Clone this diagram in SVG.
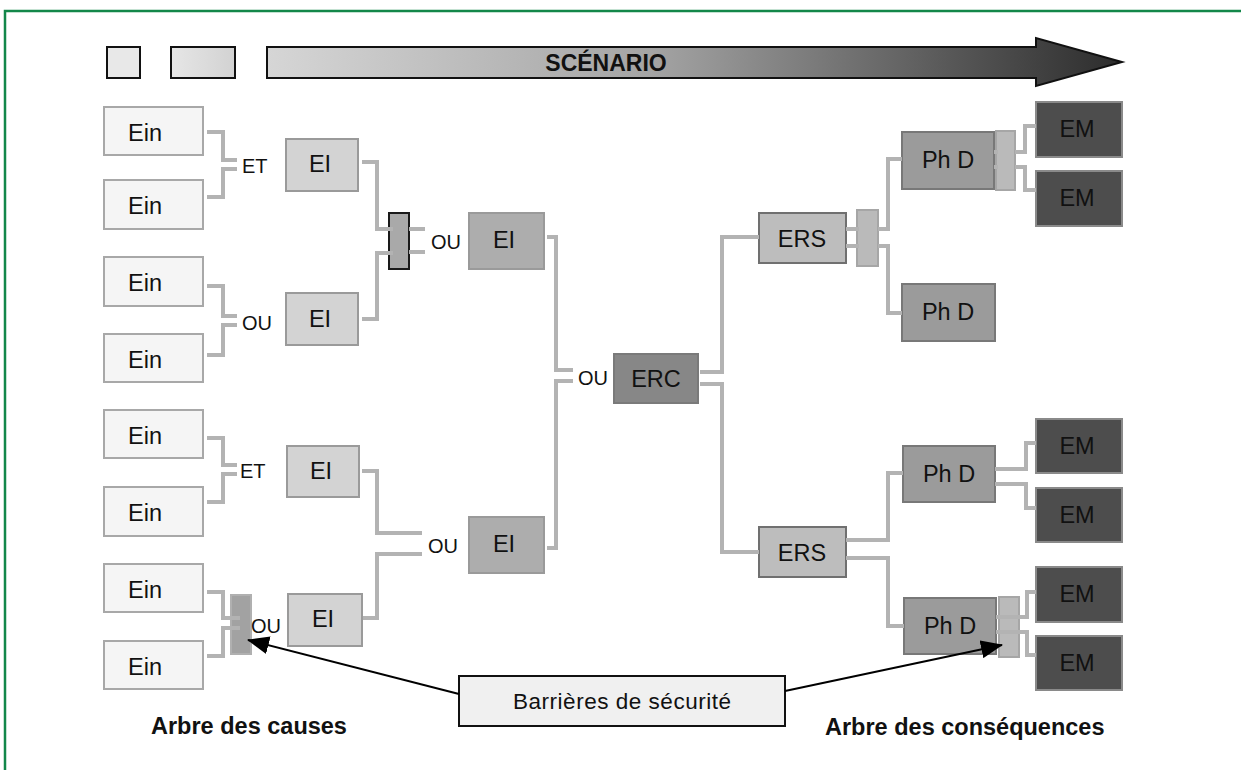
<svg xmlns="http://www.w3.org/2000/svg" width="1241" height="770" viewBox="0 0 1241 770">
<defs>
<linearGradient id="gArrow" x1="267" y1="0" x2="1122" y2="0" gradientUnits="userSpaceOnUse">
<stop offset="0" stop-color="#d6d6d6"/><stop offset="0.45" stop-color="#a4a4a4"/><stop offset="1" stop-color="#2c2c2c"/>
</linearGradient>
<linearGradient id="gSq2" x1="0" y1="0" x2="1" y2="0">
<stop offset="0" stop-color="#e6e6e6"/><stop offset="1" stop-color="#d2d2d2"/>
</linearGradient>
<marker id="ahb" viewBox="0 0 22 18" refX="21" refY="9" markerWidth="22" markerHeight="18" markerUnits="userSpaceOnUse" orient="auto">
<path d="M0,0 L22,9 L0,18 z" fill="#000"/>
</marker>
</defs>
<style>
text{font-family:"Liberation Sans",Arial,sans-serif;fill:#111}
.lbl{font-size:23.5px;text-anchor:middle}
.gate{font-size:20px}
.bold{font-weight:bold}
.ein{fill:#f5f5f5;stroke:#a8a8a8;stroke-width:2}
.ei1{fill:#d3d3d3;stroke:#9a9a9a;stroke-width:2}
.ei2{fill:#adadad;stroke:#9a9a9a;stroke-width:2}
.erc{fill:#878787;stroke:#7a7a7a;stroke-width:2}
.ers{fill:#bdbdbd;stroke:#707070;stroke-width:2}
.phd{fill:#9b9b9b;stroke:#787878;stroke-width:2}
.em{fill:#4d4d4d;stroke:#8a8a8a;stroke-width:2}
.bar{fill:#bababa;stroke:#a6a6a6;stroke-width:2}
.conn path{fill:none;stroke:#b3b3b3;stroke-width:4}
.frame{stroke:#13874a;stroke-width:2.5;fill:none}
</style>
<path class="frame" d="M5,770 V11 H1241"/>
<g id="scenario">
<rect x="107" y="47" width="33" height="31" fill="#e8e8e8" stroke="#111" stroke-width="2"/>
<rect x="171" y="47" width="64" height="31" fill="url(#gSq2)" stroke="#111" stroke-width="2"/>
<path d="M267,47 H1036 V38 L1122,62 L1036,86 V78 H267 Z" fill="url(#gArrow)" stroke="#111" stroke-width="2"/>
<text x="606" y="71" class="bold" font-size="23" text-anchor="middle">SCÉNARIO</text>
</g>
<g id="nodes">
<g id="ein1"><rect class="ein" x="104" y="107" width="99" height="48"/><text class="lbl" x="145" y="141">Ein</text></g>
<g id="ein2"><rect class="ein" x="104" y="180" width="99" height="49"/><text class="lbl" x="145" y="214">Ein</text></g>
<g id="ein3"><rect class="ein" x="104" y="257" width="99" height="49"/><text class="lbl" x="145" y="291">Ein</text></g>
<g id="ein4"><rect class="ein" x="104" y="334" width="99" height="48"/><text class="lbl" x="145" y="368">Ein</text></g>
<g id="ein5"><rect class="ein" x="104" y="410" width="99" height="48"/><text class="lbl" x="145" y="444">Ein</text></g>
<g id="ein6"><rect class="ein" x="104" y="487" width="99" height="49"/><text class="lbl" x="145" y="521">Ein</text></g>
<g id="ein7"><rect class="ein" x="104" y="564" width="99" height="48"/><text class="lbl" x="145" y="598">Ein</text></g>
<g id="ein8"><rect class="ein" x="104" y="641" width="99" height="48"/><text class="lbl" x="145" y="675">Ein</text></g>
<g id="ei1"><rect class="ei1" x="286" y="139" width="72" height="52"/><text class="lbl" x="320" y="172">EI</text></g>
<g id="ei2"><rect class="ei1" x="286" y="293" width="72" height="52"/><text class="lbl" x="320" y="327">EI</text></g>
<g id="ei3"><rect class="ei1" x="287" y="446" width="72" height="51"/><text class="lbl" x="321" y="479">EI</text></g>
<g id="ei4"><rect class="ei1" x="288" y="594" width="74" height="52"/><text class="lbl" x="323" y="627">EI</text></g>
<g id="ei5"><rect class="ei2" x="469" y="213" width="75" height="56"/><text class="lbl" x="504" y="248">EI</text></g>
<g id="ei6"><rect class="ei2" x="469" y="517" width="75" height="56"/><text class="lbl" x="504" y="552">EI</text></g>
<g id="erc"><rect class="erc" x="614" y="354" width="84" height="49"/><text class="lbl" x="656" y="387">ERC</text></g>
<g id="ers1"><rect class="ers" x="759" y="213" width="87" height="50"/><text class="lbl" x="802" y="247">ERS</text></g>
<g id="ers2"><rect class="ers" x="759" y="527" width="87" height="50"/><text class="lbl" x="802" y="561">ERS</text></g>
<g id="phd1"><rect class="phd" x="902" y="132" width="92" height="57"/><text class="lbl" x="948" y="168">Ph D</text></g>
<g id="phd2"><rect class="phd" x="902" y="284" width="93" height="57"/><text class="lbl" x="948" y="320">Ph D</text></g>
<g id="phd3"><rect class="phd" x="903" y="446" width="92" height="56"/><text class="lbl" x="949" y="482">Ph D</text></g>
<g id="phd4"><rect class="phd" x="904" y="598" width="92" height="56"/><text class="lbl" x="950" y="634">Ph D</text></g>
<g id="em1"><rect class="em" x="1036" y="102" width="86" height="55"/><text class="lbl" x="1077" y="137">EM</text></g>
<g id="em2"><rect class="em" x="1036" y="171" width="86" height="55"/><text class="lbl" x="1077" y="206">EM</text></g>
<g id="em3"><rect class="em" x="1036" y="419" width="86" height="54"/><text class="lbl" x="1077" y="454">EM</text></g>
<g id="em4"><rect class="em" x="1036" y="488" width="86" height="54"/><text class="lbl" x="1077" y="523">EM</text></g>
<g id="em5"><rect class="em" x="1036" y="567" width="86" height="55"/><text class="lbl" x="1077" y="602">EM</text></g>
<g id="em6"><rect class="em" x="1036" y="636" width="86" height="54"/><text class="lbl" x="1077" y="671">EM</text></g>
<g id="barrier1"><rect x="389" y="213" width="20" height="56" fill="#a9a9a9" stroke="#1a1a1a" stroke-width="2"/></g>
<g id="barrier2"><rect x="231" y="595" width="20" height="59" fill="#a2a2a2" stroke="#b0b0b0" stroke-width="2"/></g>
<g id="barrier3"><rect class="bar" x="857" y="210" width="21" height="56"/></g>
<g id="barrier4"><rect class="bar" x="996" y="131" width="19" height="59"/></g>
<g id="barrier5"><rect class="bar" x="999" y="597" width="20" height="60" fill="#c4c4c4"/></g>
</g>
<g id="connectors" class="conn">
<path d="M207,132 H223 V160 H237"/>
<path d="M237,169 H223 V197 H207"/>
<path d="M207,286 H223 V316 H237"/>
<path d="M237,325 H223 V355 H207"/>
<path d="M207,438 H223 V465 H237"/>
<path d="M237,474 H223 V502 H207"/>
<path d="M207,592 H223 V618 H240"/>
<path d="M240,628 H223 V656 H207"/>
<path d="M362,162 H377 V229 H393"/>
<path d="M362,319 H377 V253 H393"/>
<path d="M409,229 H425 M409,252 H425"/>
<path d="M362,471 H377 V533 H422"/>
<path d="M363,618 H377 V554 H422"/>
<path d="M547,237 H556 V370 H573"/>
<path d="M573,381 H556 V548 H547"/>
<path d="M700,372 H722 V237 H759"/>
<path d="M700,384 H722 V552 H759"/>
<path d="M846,229 H859 M846,246 H859"/>
<path d="M878,229 H888 V159 H902"/>
<path d="M878,246 H888 V313 H902"/>
<path d="M994,152 H998 M994,167 H998"/>
<path d="M1015,152 H1025 V126 H1036"/>
<path d="M1015,167 H1025 V190 H1036"/>
<path d="M846,540 H888 V473 H903"/>
<path d="M846,558 H888 V626 H904"/>
<path d="M995,469 H1026 V443 H1036"/>
<path d="M995,484 H1026 V508 H1036"/>
<path d="M996,617 H1027 V592 H1036"/>
<path d="M996,632 H1027 V655 H1036"/>
</g>
<g id="gate-labels">
<text class="gate" x="242" y="173">ET</text>
<text class="gate" x="242" y="330">OU</text>
<text class="gate" x="431" y="249">OU</text>
<text class="gate" x="240" y="478">ET</text>
<text class="gate" x="428" y="553">OU</text>
<text class="gate" x="251" y="633">OU</text>
<text class="gate" x="578" y="385">OU</text>
</g>
<g id="barrieres">
<rect x="459" y="676" width="326" height="50" fill="#f0f0f0" stroke="#111" stroke-width="2"/>
<text x="622" y="709" font-size="22.5" text-anchor="middle" textLength="218">Barrières de sécurité</text>
</g>
<g id="callouts" fill="none" stroke="#000" stroke-width="2">
<path d="M459,694 L248,640" marker-end="url(#ahb)"/>
<path d="M785,691 L1002,645" marker-end="url(#ahb)"/>
</g>
<text x="151" y="734" class="bold" font-size="23.5">Arbre des causes</text>
<text x="825" y="735" class="bold" font-size="23.5">Arbre des conséquences</text>
</svg>
